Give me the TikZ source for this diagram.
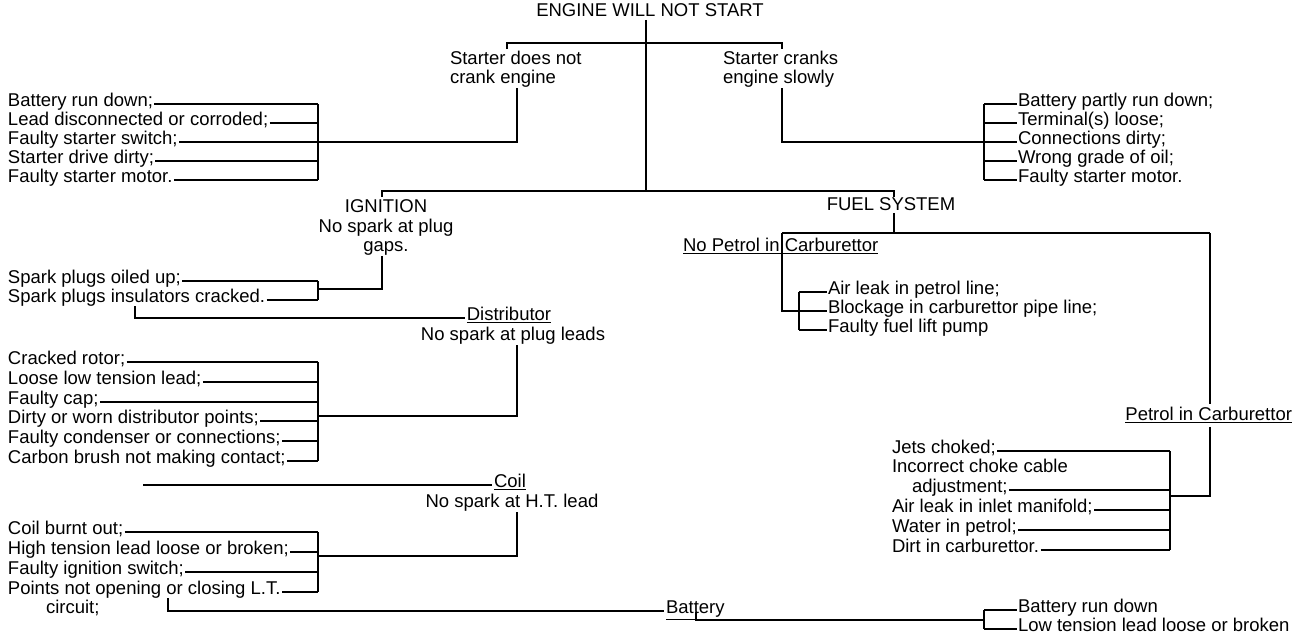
\documentclass[tikz,border=0pt]{standalone}
\usepackage{fontspec}
\setmainfont{Liberation Sans}
\begin{document}
\begin{tikzpicture}[x=1pt,y=-1pt,
  every node/.style={inner sep=0pt, outer sep=0pt, font=\fontsize{18.5}{19.5}\selectfont},
  item/.style={anchor=mid west},
  lbl/.style={anchor=mid},
  ln/.style={line width=1.3pt, black},
]
\fill[white] (0,0) rectangle (1296,638);
\useasboundingbox (0,0) rectangle (1296,638);
% column coordinates
\coordinate (xT) at (646,0);
\coordinate (xa) at (517,0);
\coordinate (xb) at (782,0);
\coordinate (xi) at (382,0);
\coordinate (xf) at (894,0);
\coordinate (xp) at (1210,0);
\coordinate (bl) at (318,0);
\coordinate (br) at (984,0);
\coordinate (bf) at (799,0);
\coordinate (bp) at (1170,0);

% title and first level
\node[lbl] (title) at (650,14) {ENGINE WILL NOT START};
\node[anchor=north west, align=left] (sdnc) at (450,50.6) {Starter does not\\crank engine};
\node[anchor=north west, align=left] (scs) at (723,50.6) {Starter cranks\\engine slowly};
\draw[ln] ([yshift=-3pt]title.south -| xT) -- (646,191);
\draw[ln] (507,49) -- (507,43) -- (782,43) -- (782,49);

% starter does not crank
\node[item] (l1) at (8,104) {Battery run down;};
\node[item] (l2) at (8,123) {Lead disconnected or corroded;};
\node[item] (l3) at (8,142) {Faulty starter switch;};
\node[item] (l4) at (8,161) {Starter drive dirty;};
\node[item] (l5) at (8,180) {Faulty starter motor.};
\foreach \n in {l1,l2,l3,l4,l5} \draw[ln] ([xshift=1.5pt]\n.mid east) -- (\n.mid east -| bl);
\draw[ln] (l1.mid east -| bl) -- (l5.mid east -| bl);
\draw[ln] (l3.mid east -| bl) -- (l3.mid east -| xa) -- ([yshift=-1pt]sdnc.south -| xa);

% starter cranks slowly
\node[item] (r1) at (1018,104) {Battery partly run down;};
\node[item] (r2) at (1018,123) {Terminal(s) loose;};
\node[item] (r3) at (1018,142) {Connections dirty;};
\node[item] (r4) at (1018,161) {Wrong grade of oil;};
\node[item] (r5) at (1018,180) {Faulty starter motor.};
\foreach \n in {r1,r2,r3,r4,r5} \draw[ln] (\n.mid west -| br) -- ([xshift=-1.5pt]\n.mid west);
\draw[ln] (r1.mid west -| br) -- (r5.mid west -| br);
\draw[ln] ([yshift=-1pt]scs.south -| xb) -- (r3.mid west -| xb) -- (r3.mid west -| br);

% second level
\draw[ln] (382,197) -- (382,191) -- (894,191) -- (894,197);

% ignition
\node[anchor=north, align=center] (ign) at (386,199.6) {IGNITION\\No spark at plug\\gaps.};
\node[item] (s1) at (8,281) {Spark plugs oiled up;};
\node[item] (s2) at (8,300) {Spark plugs insulators cracked.};
\foreach \n in {s1,s2} \draw[ln] ([xshift=1.5pt]\n.mid east) -- (\n.mid east -| bl);
\draw[ln] (s1.mid east -| bl) -- (s2.mid east -| bl);
\draw[ln] ([yshift=-1pt]ign.south -| xi) -- (382,289) -- (318,289);

% distributor
\coordinate (ins) at (135,306);
\node[lbl] (dist) at (509,318) {\underline{Distributor}};
\node[lbl] (dsub) at (513,338) {No spark at plug leads};
\draw[ln] (ins) -- (ins |- dist.mid) -- ([xshift=-2pt]dist.mid west);
\node[item] (d1) at (8,362) {Cracked rotor;};
\node[item] (d2) at (8,382) {Loose low tension lead;};
\node[item] (d3) at (8,402) {Faulty cap;};
\node[item] (d4) at (8,421) {Dirty or worn distributor points;};
\node[item] (d5) at (8,441) {Faulty condenser or connections;};
\node[item] (d6) at (8,461) {Carbon brush not making contact;};
\foreach \n in {d1,d2,d3,d4,d5,d6} \draw[ln] ([xshift=1.5pt]\n.mid east) -- (\n.mid east -| bl);
\draw[ln] (d1.mid east -| bl) -- (d6.mid east -| bl);
\draw[ln] ([yshift=-1pt]dsub.south -| xa) -- (517,416) -- (318,416);

% coil
\coordinate (cl) at (143,485);
\node[anchor=mid west] (coil) at (494,485) {\underline{Coil}};
\node[lbl] (csub) at (512,505) {No spark at H.T. lead};
\draw[ln] (cl) -- ([xshift=-2pt]coil.mid west);
\node[item] (c1) at (8,532) {Coil burnt out;};
\node[item] (c2) at (8,552) {High tension lead loose or broken;};
\node[item] (c3) at (8,572) {Faulty ignition switch;};
\node[item] (c4) at (8,592) {Points not opening or closing L.T.};
\node[item] (c4b) at (46,611) {circuit;};
\foreach \n in {c1,c2,c3,c4} \draw[ln] ([xshift=1.5pt]\n.mid east) -- (\n.mid east -| bl);
\draw[ln] (c1.mid east -| bl) -- (c4.mid east -| bl);
\draw[ln] ([yshift=-1pt]csub.south -| xa) -- (517,556) -- (318,556);

% battery
\coordinate (pt) at (168,598);
\node[anchor=mid west] (bat) at (666,611) {\underline{Battery}};
\draw[ln] (pt) -- (pt |- bat.mid) -- ([xshift=-2pt]bat.mid west);
\coordinate (bt) at (696,612);
\node[item] (b1) at (1018,610) {Battery run down};
\node[item] (b2) at (1018,629) {Low tension lead loose or broken};
\foreach \n in {b1,b2} \draw[ln] (\n.mid west -| br) -- ([xshift=-1.5pt]\n.mid west);
\draw[ln] (b1.mid west -| br) -- (b2.mid west -| br);
\draw[ln] (bt) -- (696,620) -- (984,620);

% fuel system
\node[lbl] (fuel) at (891,208) {FUEL SYSTEM};
\draw[ln] ([yshift=-2pt]fuel.south -| xf) -- (894,233);
\draw[ln] (782,233) -- (1210,233);
\node[anchor=mid west] (nop) at (683,249) {\underline{No Petrol in Carburettor}};
\node[item] (f1) at (828,292) {Air leak in petrol line;};
\node[item] (f2) at (828,311) {Blockage in carburettor pipe line;};
\node[item] (f3) at (828,330) {Faulty fuel lift pump};
\foreach \n in {f1,f2,f3} \draw[ln] (\n.mid west -| bf) -- ([xshift=-1.5pt]\n.mid west);
\draw[ln] (f1.mid west -| bf) -- (f3.mid west -| bf);
\draw[ln] (782,233) -- (f2.mid west -| xb) -- (f2.mid west -| bf);

% petrol in carburettor
\node[anchor=mid east] (pic) at (1292,418) {\underline{Petrol in Carburettor}};
\draw[ln] (1210,233) -- ([yshift=3pt]pic.north -| xp);
\node[item] (p1) at (892,451) {Jets choked;};
\node[item] (p2) at (892,470) {Incorrect choke cable};
\node[item] (p2b) at (912,490) {adjustment;};
\node[item] (p3) at (892,510) {Air leak in inlet manifold;};
\node[item] (p4) at (892,530) {Water in petrol;};
\node[item] (p5) at (892,550) {Dirt in carburettor.};
\foreach \n in {p1,p2b,p3,p4,p5} \draw[ln] ([xshift=1.5pt]\n.mid east) -- (\n.mid east -| bp);
\draw[ln] (p1.mid east -| bp) -- (p5.mid east -| bp);
\draw[ln] ([yshift=-4pt]pic.south -| xp) -- (1210,496) -- (1170,496);
\end{tikzpicture}
\end{document}
